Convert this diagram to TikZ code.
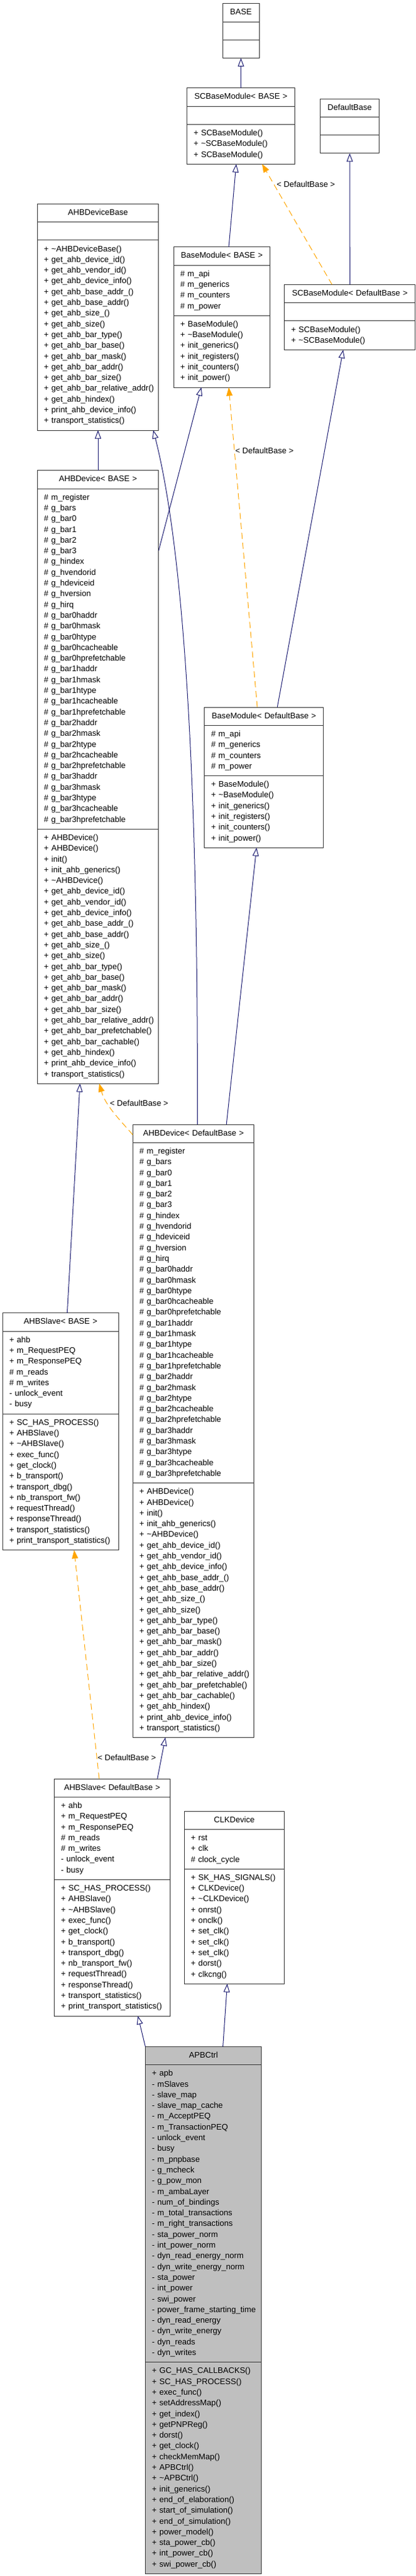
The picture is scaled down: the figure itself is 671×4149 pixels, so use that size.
\documentclass[tikz,border=0pt]{standalone}
\usepackage{fontspec}
\setmainfont{Liberation Sans}
\usetikzlibrary{shapes.multipart,arrows.meta}

\definecolor{isablue}{HTML}{191970}
\definecolor{instorange}{HTML}{FFA500}
\definecolor{boxgray}{HTML}{BFBFBF}

\newcommand\classfont{\fontsize{13.1}{17.3}\selectfont}
\newcommand\classline{\newline\hspace*{10.25pt}\ignorespaces}
\newcommand\classtext[3]{\noindent\makebox[\hsize]{\strut#1\strut}%
  \nodepart{second}\let\\\classline\noindent\hspace*{10.25pt}\strut#2\strut
  \nodepart{third}\let\\\classline\noindent\hspace*{10.25pt}\strut#3\strut}

\newcommand\basemoduleattrs{\# m\_api\\\# m\_generics\\\# m\_counters\\\# m\_power}
\newcommand\basemodulemethods{+ BaseModule()\\+ \textasciitilde BaseModule()\\+ init\_generics()\\+ init\_registers()\\+ init\_counters()\\+ init\_power()}
\newcommand\ahbdeviceattrs{\# m\_register\\\# g\_bars\\\# g\_bar0\\\# g\_bar1\\\# g\_bar2\\\# g\_bar3\\\# g\_hindex\\\# g\_hvendorid\\\# g\_hdeviceid\\\# g\_hversion\\\# g\_hirq\\
  \# g\_bar0haddr\\\# g\_bar0hmask\\\# g\_bar0htype\\\# g\_bar0hcacheable\\\# g\_bar0hprefetchable\\
  \# g\_bar1haddr\\\# g\_bar1hmask\\\# g\_bar1htype\\\# g\_bar1hcacheable\\\# g\_bar1hprefetchable\\
  \# g\_bar2haddr\\\# g\_bar2hmask\\\# g\_bar2htype\\\# g\_bar2hcacheable\\\# g\_bar2hprefetchable\\
  \# g\_bar3haddr\\\# g\_bar3hmask\\\# g\_bar3htype\\\# g\_bar3hcacheable\\\# g\_bar3hprefetchable}
\newcommand\ahbdevicemethods{+ AHBDevice()\\+ AHBDevice()\\+ init()\\+ init\_ahb\_generics()\\+ \textasciitilde AHBDevice()\\
  + get\_ahb\_device\_id()\\+ get\_ahb\_vendor\_id()\\+ get\_ahb\_device\_info()\\+ get\_ahb\_base\_addr\_()\\+ get\_ahb\_base\_addr()\\
  + get\_ahb\_size\_()\\+ get\_ahb\_size()\\+ get\_ahb\_bar\_type()\\+ get\_ahb\_bar\_base()\\+ get\_ahb\_bar\_mask()\\+ get\_ahb\_bar\_addr()\\
  + get\_ahb\_bar\_size()\\+ get\_ahb\_bar\_relative\_addr()\\+ get\_ahb\_bar\_prefetchable()\\+ get\_ahb\_bar\_cachable()\\
  + get\_ahb\_hindex()\\+ print\_ahb\_device\_info()\\+ transport\_statistics()}
\newcommand\ahbslaveattrs{+ ahb\\+ m\_RequestPEQ\\+ m\_ResponsePEQ\\\# m\_reads\\\# m\_writes\\- unlock\_event\\- busy}
\newcommand\ahbslavemethods{+ SC\_HAS\_PROCESS()\\+ AHBSlave()\\+ \textasciitilde AHBSlave()\\+ exec\_func()\\+ get\_clock()\\+ b\_transport()\\
  + transport\_dbg()\\+ nb\_transport\_fw()\\+ requestThread()\\+ responseThread()\\+ transport\_statistics()\\+ print\_transport\_statistics()}

\tikzset{
  classbox/.style={rectangle split, rectangle split parts=3, draw=black!80, line width=1pt,
    fill=white, inner xsep=0.5pt, inner ysep=5.5pt, outer sep=0pt,
    anchor=north west, font=\classfont},
  isa/.style={draw=isablue, line width=1pt, -{Triangle[length=13.5pt,width=10pt,fill=white]}},
  inst/.style={draw=instorange, line width=1pt, dash pattern=on 10pt off 6pt,
    -{Triangle[length=13.5pt,width=10pt]}},
  instlabel/.style={font=\classfont, text=black, inner sep=1pt, anchor=west}
}

\begin{document}
\begin{tikzpicture}[x=1pt,y=-1pt]
      \useasboundingbox (0,0) rectangle (671,4149);
      \path[every node/.style=classbox]
        (359.1,5.7) node[text width=58pt] (base) {\classtext{BASE}{}{}}
        (301.5,141.7) node[text width=173.2pt] (scbase)
          {\classtext{SCBaseModule< BASE >}{}{+ SCBaseModule()\\+ \textasciitilde SCBaseModule()\\+ SCBaseModule()}}
        (516.6,159) node[text width=94pt] (dfltbase) {\classtext{DefaultBase}{}{}}
        (60.2,328.3) node[text width=194.7pt] (ahbdevbase)
          {\classtext{AHBDeviceBase}{}{+ \textasciitilde AHBDeviceBase()\\+ get\_ahb\_device\_id()\\+ get\_ahb\_vendor\_id()\\
            + get\_ahb\_device\_info()\\+ get\_ahb\_base\_addr\_()\\+ get\_ahb\_base\_addr()\\+ get\_ahb\_size\_()\\+ get\_ahb\_size()\\
            + get\_ahb\_bar\_type()\\+ get\_ahb\_bar\_base()\\+ get\_ahb\_bar\_mask()\\+ get\_ahb\_bar\_addr()\\+ get\_ahb\_bar\_size()\\
            + get\_ahb\_bar\_relative\_addr()\\+ get\_ahb\_hindex()\\+ print\_ahb\_device\_info()\\+ transport\_statistics()}}
        (280,397.7) node[text width=154.7pt] (bmbase)
          {\classtext{BaseModule< BASE >}{\basemoduleattrs}{\basemodulemethods}}
        (458.9,458.3) node[text width=209.8pt] (scbasedb)
          {\classtext{SCBaseModule< DefaultBase >}{}{+ SCBaseModule()\\+ \textasciitilde SCBaseModule()}}
        (60.2,757.7) node[text width=194.7pt] (ahbdev)
          {\classtext{AHBDevice< BASE >}{\ahbdeviceattrs}{\ahbdevicemethods}}
        (329.9,1139) node[text width=190.8pt] (bmdb)
          {\classtext{BaseModule< DefaultBase >}{\basemoduleattrs}{\basemodulemethods}}
        (214.2,1811) node[text width=194.7pt] (ahbdevdb)
          {\classtext{AHBDevice< DefaultBase >}{\ahbdeviceattrs}{\ahbdevicemethods}}
        (4.3,2114.7) node[text width=185.7pt] (ahbslave)
          {\classtext{AHBSlave< BASE >}{\ahbslaveattrs}{\ahbslavemethods}}
        (87.7,2865) node[text width=185.3pt] (ahbslavedb)
          {\classtext{AHBSlave< DefaultBase >}{\ahbslaveattrs}{\ahbslavemethods}}
        (297.2,2917) node[text width=160.3pt] (clkdev)
          {\classtext{CLKDevice}{+ rst\\+ clk\\\# clock\_cycle}{+ SK\_HAS\_SIGNALS()\\+ CLKDevice()\\+ \textasciitilde CLKDevice()\\
            + onrst()\\+ onclk()\\+ set\_clk()\\+ set\_clk()\\+ set\_clk()\\+ dorst()\\+ clkcng()}}
        (234.4,3296.3) node[text width=186.5pt, fill=boxgray] (apbctrl)
          {\classtext{APBCtrl}{+ apb\\- mSlaves\\- slave\_map\\- slave\_map\_cache\\- m\_AcceptPEQ\\- m\_TransactionPEQ\\
            - unlock\_event\\- busy\\- m\_pnpbase\\- g\_mcheck\\- g\_pow\_mon\\- m\_ambaLayer\\- num\_of\_bindings\\
            - m\_total\_transactions\\- m\_right\_transactions\\- sta\_power\_norm\\- int\_power\_norm\\
            - dyn\_read\_energy\_norm\\- dyn\_write\_energy\_norm\\- sta\_power\\- int\_power\\- swi\_power\\
            - power\_frame\_starting\_time\\- dyn\_read\_energy\\- dyn\_write\_energy\\- dyn\_reads\\- dyn\_writes}
            {+ GC\_HAS\_CALLBACKS()\\+ SC\_HAS\_PROCESS()\\+ exec\_func()\\+ setAddressMap()\\+ get\_index()\\
            + getPNPReg()\\+ dorst()\\+ get\_clock()\\+ checkMemMap()\\+ APBCtrl()\\+ \textasciitilde APBCtrl()\\
            + init\_generics()\\+ end\_of\_elaboration()\\+ start\_of\_simulation()\\+ end\_of\_simulation()\\
            + power\_model()\\+ sta\_power\_cb()\\+ int\_power\_cb()\\+ swi\_power\_cb()}};
      \begin{scope}[isa]
        \draw (scbase.north) to (base.south);
        \draw ([xshift=89pt]bmbase.north west) to ([xshift=79.5pt]scbase.south west);
        \draw (scbasedb.north) to (dfltbase.south);
        \draw (ahbdev.north) to (ahbdevbase.south);
        \draw ([xshift=104.1pt]ahbdevdb.north west) .. controls (320,1300) and (300,900) .. ([xshift=187.1pt]ahbdevbase.south west);
        \draw ([yshift=-129pt]ahbdev.north east) to ([xshift=44.7pt]bmbase.south west);
        \draw ([xshift=117.4pt]bmdb.north west) to ([xshift=94.6pt]scbasedb.south west);
        \draw ([xshift=151pt]ahbdevdb.north west) to ([xshift=83.9pt]bmdb.south west);
        \draw ([xshift=104.1pt]ahbslave.north west) to ([xshift=68.8pt]ahbdev.south west);
        \draw ([xshift=166.1pt]ahbslavedb.north west) to ([xshift=52.5pt]ahbdevdb.south west);
        \draw (apbctrl.north west) to ([xshift=134.7pt]ahbslavedb.south west);
        \draw ([xshift=125.2pt]apbctrl.north west) to ([xshift=69.3pt]clkdev.south west);
      \end{scope}
      \begin{scope}[inst]
        \draw ([xshift=76.6pt]scbasedb.north west) to node[instlabel, pos=0.83, xshift=3pt] {< DefaultBase >} ([xshift=121.3pt]scbase.south west);
        \draw ([xshift=85.1pt]bmdb.north west) to node[instlabel, pos=0.803] {< DefaultBase >} ([xshift=89pt]bmbase.south west);
        \draw ([yshift=-16.7pt]ahbdevdb.north west) .. controls (190,1800) and (170,1780) .. ([xshift=99.8pt]ahbdev.south west)
          node[instlabel, pos=0.65, xshift=2pt] {< DefaultBase >};
        \draw ([xshift=72.3pt]ahbslavedb.north west) to node[instlabel, pos=0.094] {< DefaultBase >} ([xshift=115.3pt]ahbslave.south west);
      \end{scope}
    \end{tikzpicture}
\end{document}
